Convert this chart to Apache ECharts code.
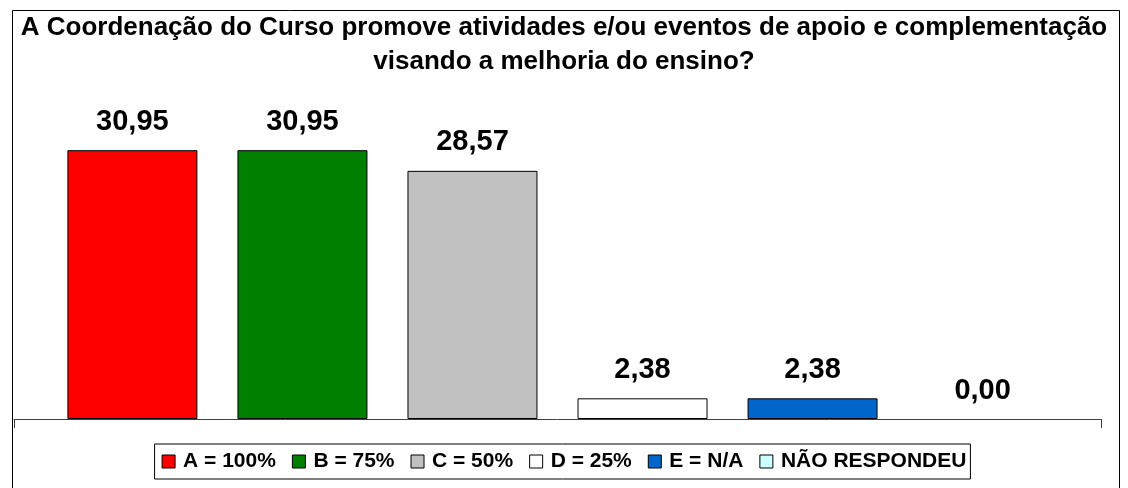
<!DOCTYPE html>
<html>
<head>
<meta charset="utf-8">
<script src="https://cdn.jsdelivr.net/npm/echarts@6/dist/echarts.min.js"></script>
<style>
  html, body { margin: 0; padding: 0; background: #fff; }
  #chart { width: 1128px; height: 488px; }
</style>
</head>
<body>
<div id="chart"></div>
<script>
// answer options (one series each) and their percentages
const options = ['A = 100%', 'B = 75%', 'C = 50%', 'D = 25%', 'E = N/A', 'NÃO RESPONDEU'];
const percents = [30.95, 30.95, 28.57, 2.38, 2.38, 0.00];
const colors = ['#FF0000', '#008000', '#C0C0C0', '#FFFFFF', '#0066CC', '#CCFFFF'];

const titleText = 'A Coordenação do Curso promove atividades e/ou eventos de apoio e complementação\nvisando a melhoria do ensino?';
const font = '"Liberation Sans", Arial, sans-serif';

const myChart = echarts.init(document.getElementById('chart'));

const series = options.map((name, i) => ({
    name: name,
    type: 'bar',
    xAxisIndex: 0,
    barWidth: 130,
    barGap: '30.8%',
    data: [percents[i]],
    // a zero bar shows no outline in the original
    itemStyle: { color: colors[i], borderColor: '#000', borderWidth: percents[i] > 0 ? 1 : 0 },
    label: {
        show: true,
        position: 'top',
        distance: 14,
        fontFamily: font,
        fontWeight: 'bold',
        fontSize: 29,
        color: '#000',
        formatter: (p) => p.value.toFixed(2).replace('.', ','),
    },
}));

const option = {
    animation: false,
    title: {
        text: titleText,
        left: 'center',
        top: 6,
        textStyle: {
            fontFamily: font,
            fontWeight: 'bold',
            fontSize: 26,
            lineHeight: 34,
            color: '#000',
        },
    },
    legend: {
        bottom: 9,
        left: 'center',
        icon: 'rect',
        itemWidth: 13,
        itemHeight: 13,
        itemGap: 16,
        padding: [7, 4, 7, 7],
        borderColor: '#000',
        borderWidth: 1,
        backgroundColor: '#fff',
        itemStyle: { borderColor: '#000', borderWidth: 1 },
        textStyle: {
            fontFamily: font,
            fontWeight: 'bold',
            fontSize: 21,
            color: '#000',
            padding: [0, 0, 0, 3],
        },
        data: options,
    },
    grid: { left: 14, right: 27, top: 115, height: 304 },
    xAxis: [
        {
            type: 'category',
            data: [''],
            axisLine: { show: false },
            axisTick: { show: false },
            axisLabel: { show: false },
        },
        {
            type: 'value',
            position: 'bottom',
            min: 0,
            max: 1,
            interval: 1,
            axisLine: { show: true, lineStyle: { color: '#404040', width: 1 } },
            axisTick: { show: true, length: 9, lineStyle: { color: '#404040' } },
            axisLabel: { show: false },
            splitLine: { show: false },
        },
    ],
    yAxis: {
        type: 'value',
        min: 0,
        max: 35,
        show: false,
        splitLine: { show: false },
    },
    graphic: [
        {
            type: 'rect',
            left: 10,
            top: 8,
            shape: { width: 1107, height: 490 },
            style: { fill: 'none', stroke: '#000', lineWidth: 1 },
            silent: true,
        },
    ],
    series: series,
};

myChart.setOption(option);
</script>
</body>
</html>
